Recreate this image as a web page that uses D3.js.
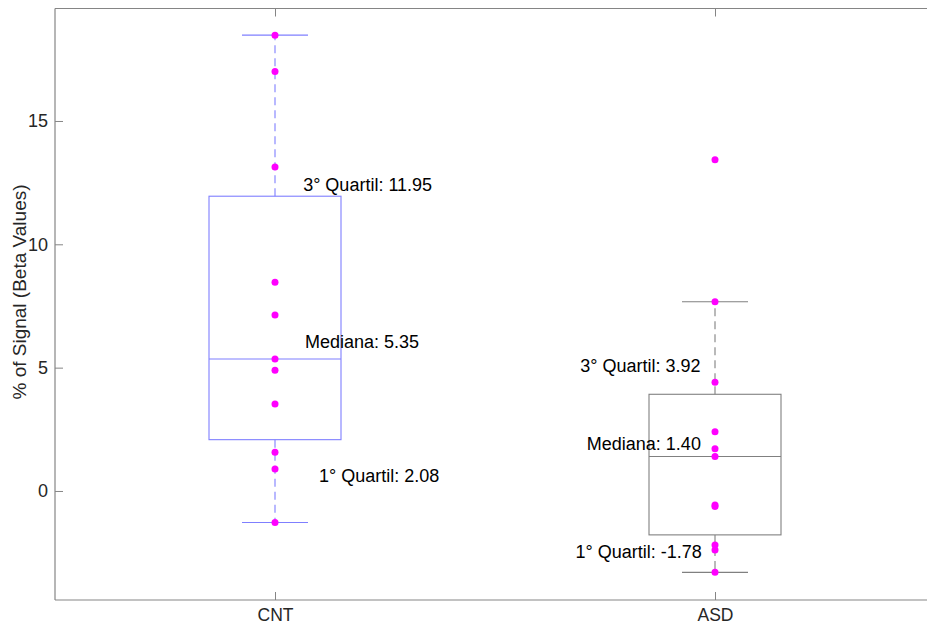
<!DOCTYPE html>
<html>
<head>
<meta charset="utf-8">
<script src="https://cdn.jsdelivr.net/npm/d3@7/dist/d3.min.js"></script>
<style>
  html, body { margin: 0; padding: 0; background: #ffffff; }
  svg { display: block; }
  text { font-family: "Liberation Sans", Arial, Helvetica, sans-serif; }
</style>
</head>
<body>
<svg id="chart" width="927" height="626"></svg>
<script>
// Groups on the x axis
const groups = ["CNT", "ASD"];

// Individual subject values (% signal, beta values)
const cntValues = [18.48, 17.01, 13.13, 8.46, 7.13, 5.35, 4.89, 3.53, 1.57, 0.89, -1.28];
const asdValues = [13.43, 7.67, 4.41, 2.40, 1.71, 1.40, -0.57, -0.63, -2.19, -2.39, -3.30];

// Box statistics per group: [Q1, median, Q3]
const cntQuartiles = [2.08, 5.35, 11.95];
const asdQuartiles = [-1.78, 1.40, 3.92];

// Whisker ends per group: [lower, upper]
const cntWhiskers = [-1.28, 18.48];
const asdWhiskers = [-3.30, 7.67];

// Axis ticks
const yTicks = [0, 5, 10, 15];

const series = [
  { name: groups[0], pos: 1, values: cntValues, q: cntQuartiles, w: cntWhiskers, color: "#7f7fff" },
  { name: groups[1], pos: 2, values: asdValues, q: asdQuartiles, w: asdWhiskers, color: "#808080" }
];

const svg = d3.select("#chart");
const plot = { left: 55, right: 935, top: 8.5, bottom: 600 };

const x = d3.scaleLinear().domain([0.5, 2.5]).range([plot.left, plot.right]);
const y = d3.scaleLinear().domain([-4.42, 19.56]).range([plot.bottom, plot.top]);

const axisColor = "#858585";
const tickTextColor = "#262626";
const boxHalf = 0.15;   // half box width in x units
const capHalf = 0.075;  // half whisker-cap width

// Axis frame lines (top and bottom; the right side lies beyond the view)
const frame = svg.append("g");
frame.append("line").attr("x1", plot.left).attr("x2", plot.right).attr("y1", plot.top).attr("y2", plot.top)
  .attr("stroke", axisColor).attr("stroke-width", 1.2);
frame.append("line").attr("x1", plot.left).attr("x2", plot.right).attr("y1", plot.bottom).attr("y2", plot.bottom)
  .attr("stroke", axisColor).attr("stroke-width", 1.2);

// Y axis with inward ticks
const yAxis = d3.axisLeft(y).tickValues(yTicks).tickSize(-8).tickPadding(7).tickFormat(d3.format("d"));
const gy = svg.append("g").attr("transform", `translate(${plot.left},0)`).call(yAxis);
gy.select(".domain").attr("stroke", axisColor).attr("stroke-width", 1.2)
  .attr("d", `M0,${plot.top}V${plot.bottom}`);
gy.selectAll(".tick line").attr("stroke", axisColor);
gy.selectAll(".tick text").attr("fill", tickTextColor).attr("font-size", 18)
  .attr("font-family", "Liberation Sans, Arial, sans-serif");

// Bottom x axis with inward ticks
const xBottom = d3.axisBottom(x).tickValues(series.map(s => s.pos)).tickSize(-8).tickPadding(9)
  .tickFormat((d, i) => groups[i]);
const gx = svg.append("g").attr("transform", `translate(0,${plot.bottom})`).call(xBottom);
gx.select(".domain").remove();
gx.selectAll(".tick line").attr("stroke", axisColor);
gx.selectAll(".tick text").attr("fill", tickTextColor).attr("font-size", 17.5)
  .attr("font-family", "Liberation Sans, Arial, sans-serif");

// Top x axis ticks (inward, no labels)
const xTop = d3.axisTop(x).tickValues(series.map(s => s.pos)).tickSize(-8).tickFormat("");
const gxt = svg.append("g").attr("transform", `translate(0,${plot.top})`).call(xTop);
gxt.select(".domain").remove();
gxt.selectAll(".tick line").attr("stroke", axisColor);

// Y axis title
svg.append("text")
  .attr("transform", `translate(26,292) rotate(-90)`)
  .attr("text-anchor", "middle")
  .attr("font-size", 19)
  .attr("fill", tickTextColor)
  .text("% of Signal (Beta Values)");

// Boxes, whiskers, medians
const boxes = svg.append("g");
series.forEach(s => {
  const g = boxes.append("g");
  const [q1, med, q3] = s.q;
  const [wLo, wHi] = s.w;
  // dashed whiskers
  g.append("line").attr("x1", x(s.pos)).attr("x2", x(s.pos)).attr("y1", y(q3)).attr("y2", y(wHi))
    .attr("stroke", s.color).attr("stroke-dasharray", "8,5").attr("stroke-width", 1.1);
  g.append("line").attr("x1", x(s.pos)).attr("x2", x(s.pos)).attr("y1", y(q1)).attr("y2", y(wLo))
    .attr("stroke", s.color).attr("stroke-dasharray", "8,5").attr("stroke-width", 1.1);
  // caps
  [wLo, wHi].forEach(v => {
    g.append("line").attr("x1", x(s.pos - capHalf)).attr("x2", x(s.pos + capHalf))
      .attr("y1", y(v)).attr("y2", y(v)).attr("stroke", s.color).attr("stroke-width", 1.1);
  });
  // box
  g.append("rect").attr("x", x(s.pos - boxHalf)).attr("y", y(q3))
    .attr("width", x(s.pos + boxHalf) - x(s.pos - boxHalf)).attr("height", y(q1) - y(q3))
    .attr("fill", "none").attr("stroke", s.color).attr("stroke-width", 1.1);
  // median
  g.append("line").attr("x1", x(s.pos - boxHalf)).attr("x2", x(s.pos + boxHalf))
    .attr("y1", y(med)).attr("y2", y(med)).attr("stroke", s.color).attr("stroke-width", 1.1);
});

// Individual data points
const pts = svg.append("g");
series.forEach(s => {
  pts.selectAll(null).data(s.values).enter().append("circle")
    .attr("cx", x(s.pos)).attr("cy", d => y(d)).attr("r", 3.5).attr("fill", "#ff00ff");
});

// Quartile and median annotations (plain hyphen for negatives)
const fmt = d3.formatLocale({ decimal: ".", thousands: ",", grouping: [3], currency: ["", ""], minus: "-" }).format(".2f");
const ann = svg.append("g").attr("font-size", 18).attr("fill", "#000");
const cnt = series[0], asd = series[1];
const cntLabels = [
  { text: `3° Quartil: ${fmt(cnt.q[2])}`, v: cnt.q[2], xv: 1.064, dy: -5.5 },
  { text: `Mediana: ${fmt(cnt.q[1])}`, v: cnt.q[1], xv: 1.068, dy: -11.5 },
  { text: `1° Quartil: ${fmt(cnt.q[0])}`, v: cnt.q[0], xv: 1.10, dy: 42.5 }
];
cntLabels.forEach(l => {
  ann.append("text").attr("x", x(l.xv)).attr("y", y(l.v) + l.dy)
    .attr("text-anchor", "start").text(l.text);
});
const asdLabels = [
  { text: `3° Quartil: ${fmt(asd.q[2])}`, v: asd.q[2], dy: -22, xv: 1.967 },
  { text: `Mediana: ${fmt(asd.q[1])}`, v: asd.q[1], dy: -6, xv: 1.968 },
  { text: `1° Quartil: ${fmt(asd.q[0])}`, v: asd.q[0], dy: 23, xv: 1.97 }
];
asdLabels.forEach(l => {
  ann.append("text").attr("x", x(l.xv)).attr("y", y(l.v) + l.dy)
    .attr("text-anchor", "end").text(l.text);
});
</script>
</body>
</html>
